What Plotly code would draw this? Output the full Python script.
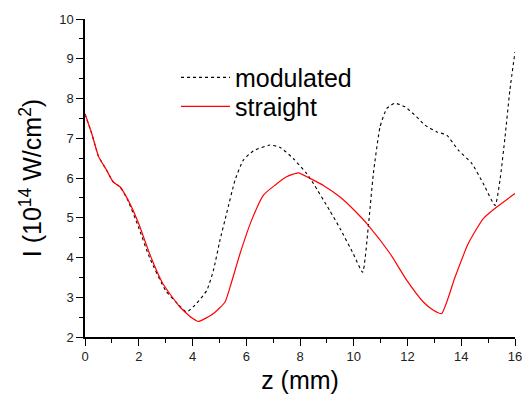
import plotly.graph_objects as go

z_straight = [0, 0.25, 0.5, 0.8, 1.05, 1.3, 1.6, 2.0, 2.4, 2.9, 3.5, 3.72, 4.0, 4.22, 4.78, 5.21,
              5.4, 5.77, 6.2, 6.64, 7.07, 7.5, 7.94, 8.37, 8.9, 9.49, 10.0, 10.54, 11.35, 11.97, 12.59,
              12.95, 13.27, 13.77, 14.26, 14.82, 15.32, 16.0]
I_straight = [7.61, 7.12, 6.55, 6.2, 5.9, 5.78, 5.45, 4.85, 4.10, 3.34, 2.78, 2.63, 2.47, 2.39, 2.59, 2.88,
              3.26, 4.10, 4.94, 5.57, 5.82, 6.03, 6.13, 5.99, 5.80, 5.52, 5.20, 4.81, 4.10, 3.43, 2.88,
              2.68, 2.59, 3.51, 4.35, 4.98, 5.27, 5.61]

z_mod = [0, 0.25, 0.5, 0.8, 1.05, 1.3, 1.6, 2.0, 2.4, 3.0, 3.5, 3.78, 4.09, 4.53, 4.78, 5.02, 5.27,
         5.58, 5.89, 6.26, 6.88, 7.26, 7.75, 8.25, 8.5, 9.1, 9.49, 9.98, 10.33, 10.54, 10.73, 10.98,
         11.23, 11.53, 11.91, 12.34, 12.65, 13.09, 13.46, 13.89, 14.39, 14.82, 15.26, 15.44, 15.63,
         15.81, 16.0]
I_mod = [7.61, 7.12, 6.55, 6.2, 5.9, 5.78, 5.43, 4.75, 4.0, 3.17, 2.8, 2.63, 2.80, 3.17, 3.68, 4.43, 5.11,
         5.94, 6.45, 6.68, 6.83, 6.77, 6.49, 6.11, 5.86, 5.19, 4.73, 4.10, 3.63, 4.77, 6.11, 7.29,
         7.75, 7.88, 7.79, 7.54, 7.33, 7.16, 7.08, 6.70, 6.37, 5.86, 5.31, 5.94, 7.04,
         8.21, 9.17]

font_family = "Arial, Liberation Sans, sans-serif"

fig = go.Figure()
fig.add_trace(go.Scatter(x=z_mod, y=I_mod, mode="lines", name="modulated",
                         line=dict(color="black", width=1.1, dash="dot", shape="spline", smoothing=0.5),
                         legend="legend"))
fig.add_trace(go.Scatter(x=z_straight, y=I_straight, mode="lines", name="straight",
                         line=dict(color="#ff0000", width=1.2, shape="spline", smoothing=0.5),
                         legend="legend2"))

axis_common = dict(showgrid=False, zeroline=False, showline=True, linecolor="black", linewidth=1.5,
                   ticks="outside", ticklen=7, tickwidth=1.2, tickcolor="black",
                   ticklabeloverflow="allow", automargin=False,
                   tickfont=dict(family=font_family, size=13, color="#222"))

fig.update_xaxes(range=[0, 16], dtick=2, tick0=0,
                 minor=dict(dtick=1, ticks="outside", ticklen=4, tickcolor="black", tickwidth=1.2),
                 title=dict(text="z (mm)", font=dict(family=font_family, size=25, color="black"), standoff=8),
                 **axis_common)
fig.update_yaxes(range=[2, 10], dtick=1, tick0=2,
                 minor=dict(dtick=0.5, ticks="outside", ticklen=4, tickcolor="black", tickwidth=1.2),
                 title=dict(text="I (10<sup>14</sup> W/cm<sup>2</sup>)",
                            font=dict(family=font_family, size=25, color="black"), standoff=10),
                 **axis_common)

legend_style = dict(xanchor="left", yanchor="top", bgcolor="rgba(0,0,0,0)",
                    font=dict(family=font_family, size=25, color="black"), itemwidth=49)

fig.update_layout(
    width=522, height=394,
    margin=dict(l=85, r=7, t=19, b=57, autoexpand=False),
    paper_bgcolor="white", plot_bgcolor="white",
    showlegend=True,
    legend=dict(x=0.2116, y=0.888, **legend_style),
    legend2=dict(x=0.2116, y=0.797, **legend_style),
)

fig.write_html("out.html")
